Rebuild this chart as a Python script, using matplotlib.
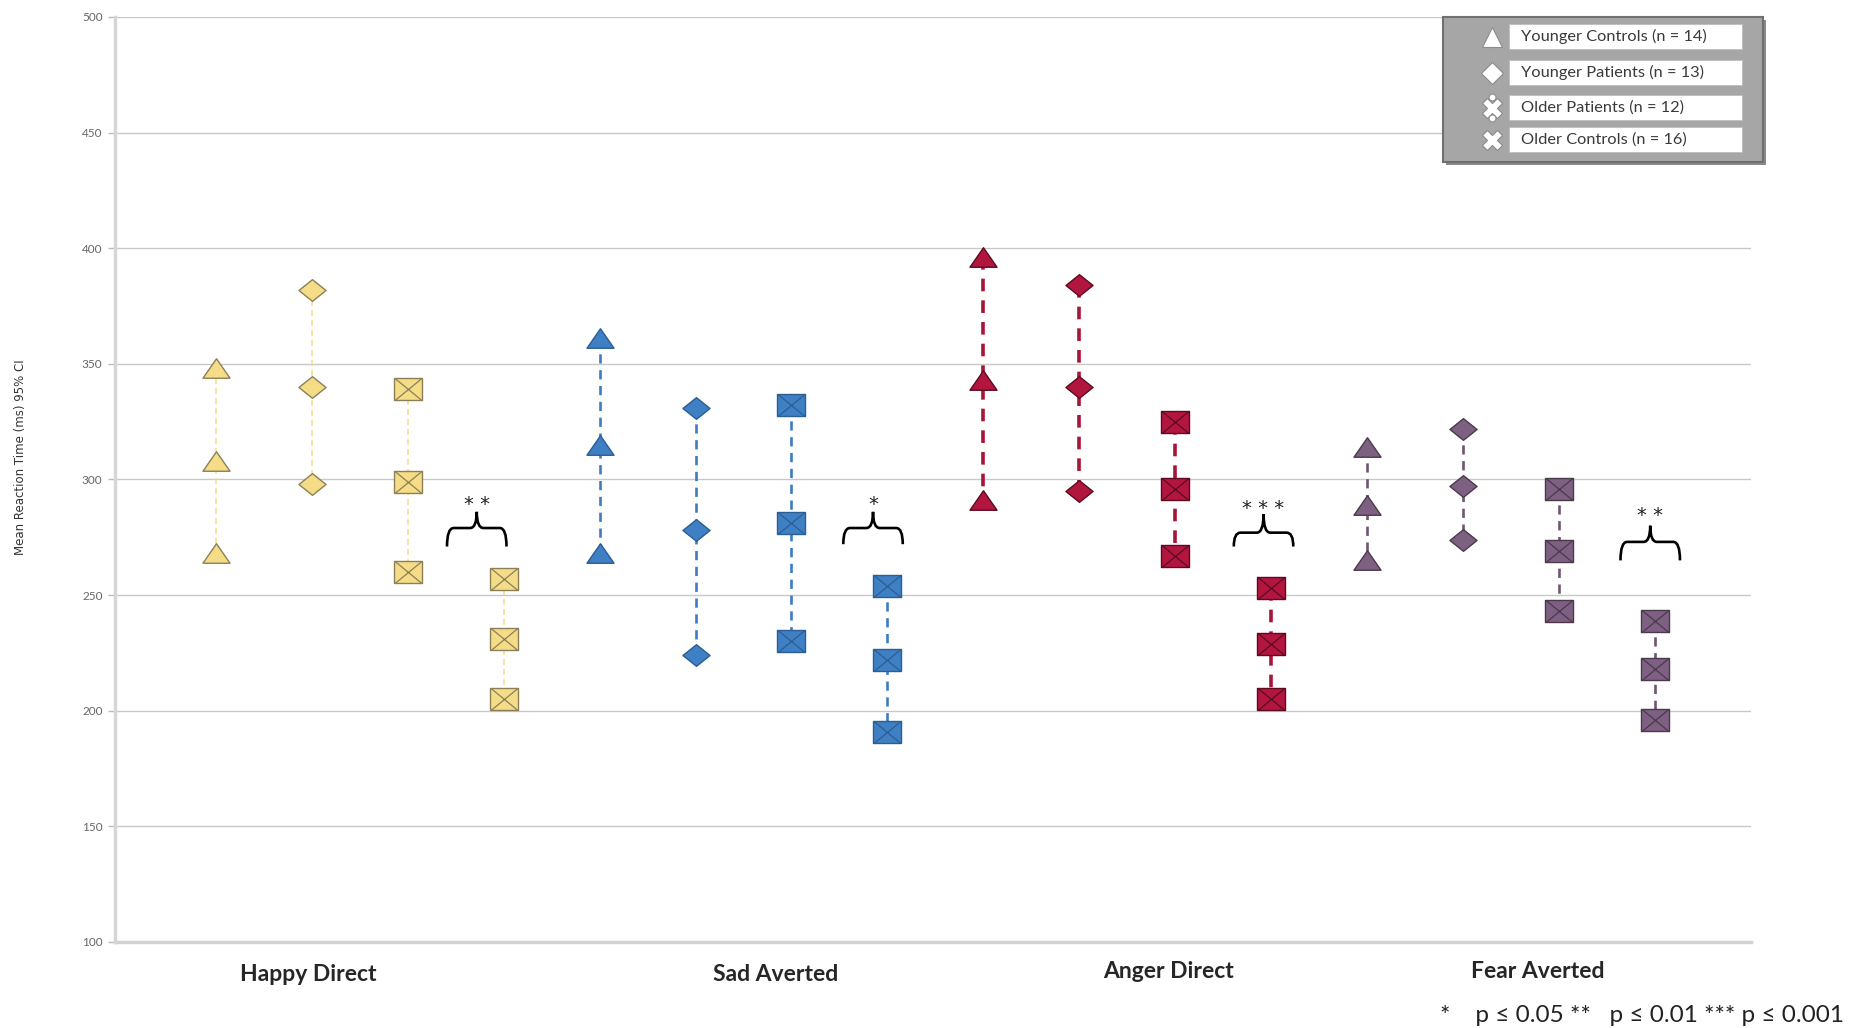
import numpy as np
import matplotlib
matplotlib.use("Agg")
import matplotlib.pyplot as plt
from matplotlib.path import Path
from matplotlib.patches import PathPatch, Rectangle

# =========================
# Data
# =========================
emotions = ["Happy Direct", "Sad Averted", "Anger Direct", "Fear Averted"]
groups = ["Younger Controls (n = 14)", "Younger Patients (n = 13)",
          "Older Patients (n = 12)", "Older Controls (n = 16)"]

# rows = emotions, columns = groups (YC, YP, OP, OC)
mean_rt = [[308, 340, 299, 231],
           [315, 278, 281, 222],
           [343, 340, 296, 229],
           [289, 297, 269, 218]]
ci_upper = [[348, 382, 339, 257],
            [361, 331, 332, 254],
            [396, 384, 325, 253],
            [314, 322, 296, 239]]
ci_lower = [[268, 298, 260, 205],
            [268, 224, 230, 191],
            [291, 295, 267, 205],
            [265, 274, 243, 196]]

sig_labels = ["**", "*", "***", "**"]
p_note = "*    p \u2264 0.05 **   p \u2264 0.01 *** p \u2264 0.001"

# =========================
# Styles
# =========================
face_colors = ["#F4DD86", "#3F7FC3", "#B2163F", "#7E6182"]
edge_colors = ["#8C8058", "#2B5E94", "#5E0A22", "#4A3A4C"]
line_colors = ["#F2DE90", "#3D7CC0", "#A8143A", "#6F5570"]
line_widths = [1.2, 1.9, 2.6, 1.9]

FONT = ["Lato", "DejaVu Sans"]

tri = Path([(-1, -0.72), (1, -0.72), (0, 0.72), (-1, -0.72)],
           [Path.MOVETO, Path.LINETO, Path.LINETO, Path.CLOSEPOLY])
dia = Path([(-1, 0), (0, 0.8), (1, 0), (0, -0.8), (-1, 0)],
           [Path.MOVETO, Path.LINETO, Path.LINETO, Path.LINETO, Path.CLOSEPOLY])
box = Path([(-1, -0.82), (1, -0.82), (1, 0.82), (-1, 0.82), (-1, -0.82)],
           [Path.MOVETO, Path.LINETO, Path.LINETO, Path.LINETO, Path.CLOSEPOLY])
cross = Path([(-1, -0.82), (1, 0.82), (-1, 0.82), (1, -0.82)],
             [Path.MOVETO, Path.LINETO, Path.MOVETO, Path.LINETO])
group_markers = [tri, dia, box, box]

# brace layout (data units)
brace_x = [2.72, 6.85, 10.92, 14.95]
brace_tip = [286, 286, 285, 280]
brace_mid = [279, 279, 277, 273]
brace_end = [271, 272, 271, 265]
star_y = [289, 289, 287.5, 284.5]
cat_label_x = [0.96, 5.83, 9.93, 13.78]
cat_label_y = [86.0, 86.0, 87.2, 87.2]

# =========================
# Figure
# =========================
fig = plt.figure(figsize=(18.58, 10.28), dpi=100)
ax = fig.add_axes([0.0619, 0.0837, 0.8805, 0.8998])

for e in range(len(emotions)):
    for g in range(len(groups)):
        x = e * 4 + g
        ys = [ci_upper[e][g], mean_rt[e][g], ci_lower[e][g]]
        ax.plot([x, x], [ys[0], ys[2]], color=line_colors[e],
                lw=line_widths[e], ls=(0, (3.5, 2.5)), zorder=2)
        ax.plot([x] * 3, ys, ls="none", marker=group_markers[g],
                markersize=19.5, markerfacecolor=face_colors[e],
                markeredgecolor=edge_colors[e], markeredgewidth=1.0, zorder=3)
        if g >= 2:
            ax.plot([x] * 3, ys, ls="none", marker=cross, markersize=19.5,
                    markerfacecolor="none", markeredgecolor=edge_colors[e],
                    markeredgewidth=0.9, zorder=4)

# significance braces
w, r = 0.31, 0.07
for xc, yt, ym, ye, lab, ys in zip(brace_x, brace_tip, brace_mid, brace_end,
                                   sig_labels, star_y):
    verts = [(xc - w, ye), (xc - w, ym), (xc - w + r, ym),
             (xc - r, ym), (xc, ym), (xc, yt),
             (xc, ym), (xc + r, ym),
             (xc + w - r, ym), (xc + w, ym), (xc + w, ye)]
    codes = [Path.MOVETO, Path.CURVE3, Path.CURVE3,
             Path.LINETO, Path.CURVE3, Path.CURVE3,
             Path.CURVE3, Path.CURVE3,
             Path.LINETO, Path.CURVE3, Path.CURVE3]
    ax.add_patch(PathPatch(Path(verts, codes), facecolor="none",
                           edgecolor="black", lw=1.9, zorder=3))
    ax.text(xc, ys, " ".join(lab), ha="center", va="center", fontsize=14,
            color="#222222", family="DejaVu Sans")

# category labels
for name, cx, cy in zip(emotions, cat_label_x, cat_label_y):
    ax.text(cx, cy, name, ha="center", va="center", fontsize=16.5,
            fontweight="bold", color="#262626", family=FONT, clip_on=False)

# =========================
# Axes formatting
# =========================
ax.set_xlim(-1.05, 16.0)
ax.set_ylim(100, 500)
ax.set_yticks(np.arange(100, 501, 50))
ax.set_xticks([])
ax.yaxis.grid(True, color="#C8C8C8", lw=1.0)
ax.set_axisbelow(True)
for s in ["top", "right", "bottom"]:
    ax.spines[s].set_visible(False)
ax.spines["left"].set_color("#D6D6D6")
ax.spines["left"].set_linewidth(2.5)
ax.axhline(100, color="#D2D2D2", lw=2.5, zorder=1, clip_on=False)
ax.tick_params(axis="y", length=5, width=1, color="#BBBBBB",
               labelsize=8.5, labelcolor="#666666", pad=4)
for t in ax.get_yticklabels():
    t.set_family(FONT)

fig.text(0.0113, 0.555, "Mean Reaction Time (ms) 95% CI", rotation=90,
         ha="center", va="center", fontsize=8.5, color="#333333",
         family=["Liberation Sans Narrow", "DejaVu Sans"])

fig.text(0.775, 0.012, p_note, ha="left", va="center", fontsize=17.5,
         color="#222222", family=FONT)

# =========================
# Legend (drawn in figure pixel space)
# =========================
lg = fig.add_axes([0, 0, 1, 1], zorder=10)
lg.set_xlim(0, 1858)
lg.set_ylim(1028, 0)
lg.axis("off")
lg.patch.set_alpha(0)

lg.add_patch(Rectangle((1446, 20), 320, 145, facecolor="#8A8A8A",
                       edgecolor="none"))
lg.add_patch(Rectangle((1443, 17), 320, 145, facecolor="#A6A6A6",
                       edgecolor="#707070", lw=1.5))
row_tops = [24, 60, 95, 127]
leg_markers = ["^", "D", "X", "X"]
leg_sizes = [15, 11, 15, 15]
for top, label, mk, ms in zip(row_tops, groups, leg_markers, leg_sizes):
    lg.add_patch(Rectangle((1509, top), 233, 25, facecolor="white",
                           edgecolor="#BDBDBD", lw=0.6))
    lg.text(1521, top + 12.5, label, ha="left", va="center", fontsize=11.8,
            color="#3A3A3A", family=FONT)
    lg.plot(1492, top + 12.5, marker=mk, markersize=ms, color="white",
            markeredgecolor="#8C8C8C", markeredgewidth=0.8)
# dots on the older patients glyph
lg.plot([1492, 1492], [95 + 2, 95 + 23], ls="none", marker="o", markersize=5,
        color="white", markeredgecolor="#8C8C8C", markeredgewidth=0.8)

fig.savefig("out.png", dpi=100)
